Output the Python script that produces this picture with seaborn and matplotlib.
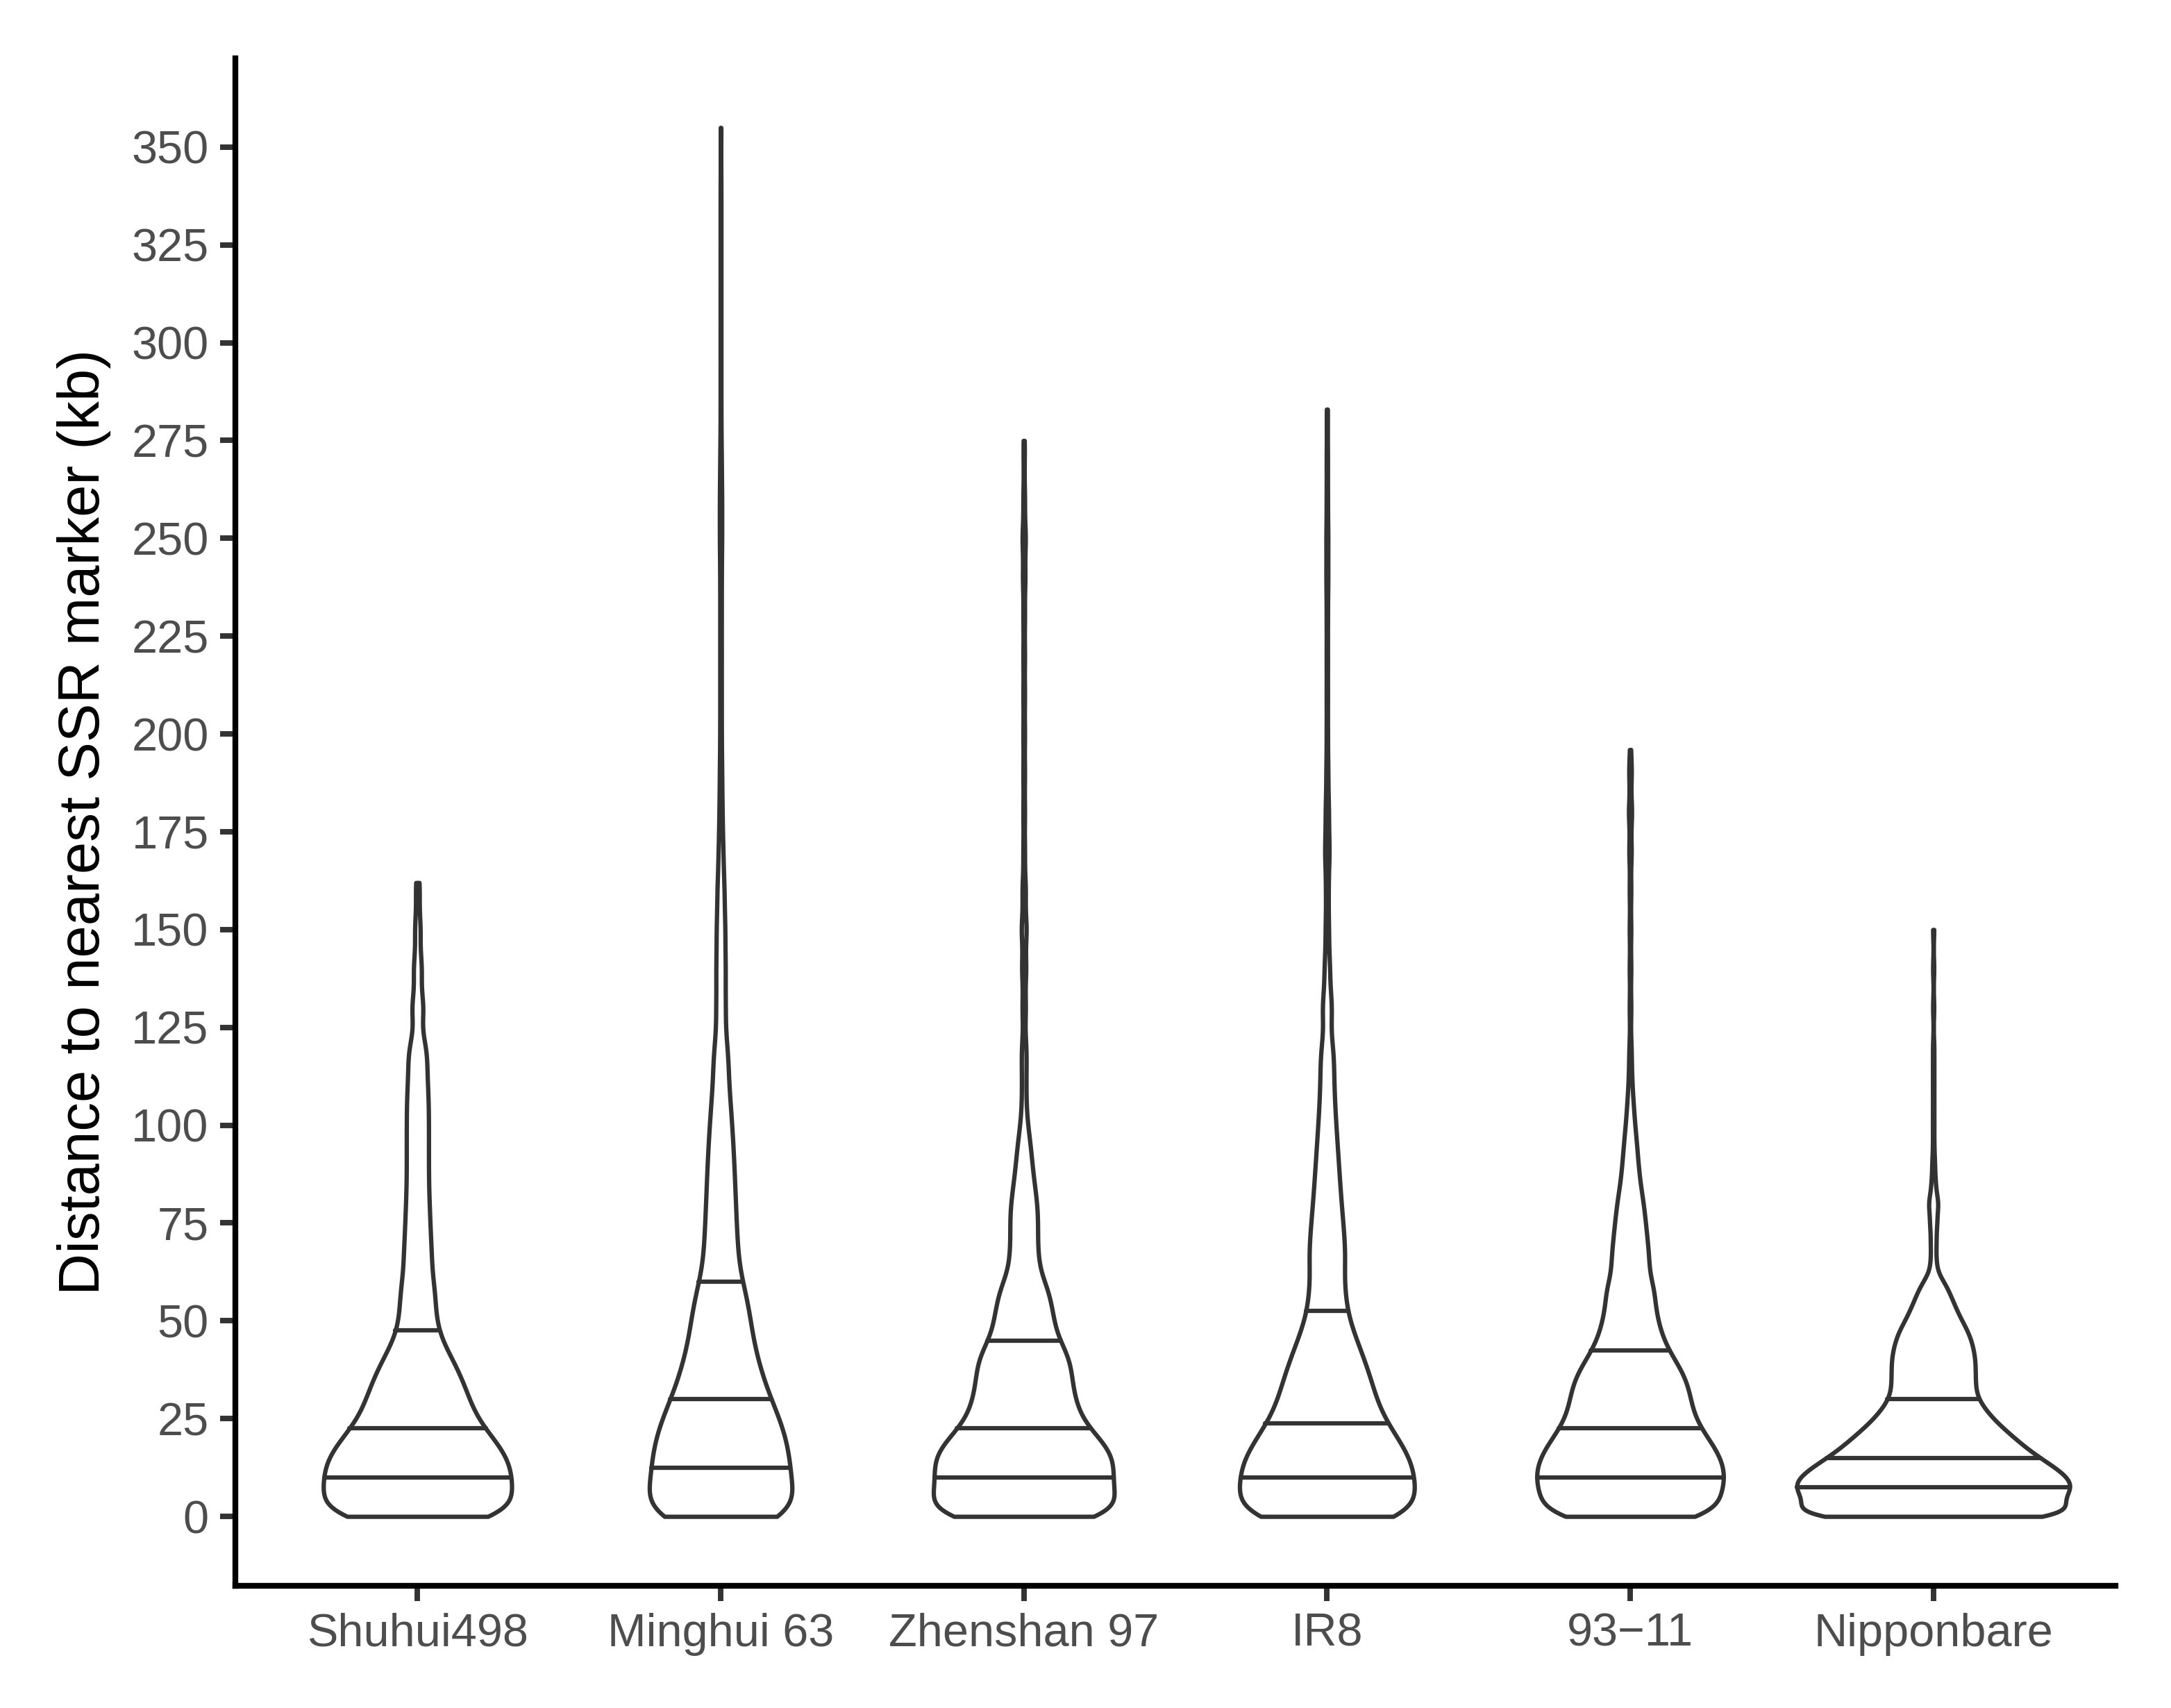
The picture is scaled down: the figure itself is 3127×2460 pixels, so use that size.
import numpy as np
import pandas as pd
import matplotlib
matplotlib.use("Agg")
import matplotlib.pyplot as plt
import seaborn as sns

# cultivars in plotting order
cultivars = ["Shuhui498", "Minghui 63", "Zhenshan 97", "IR8", "93\u221211", "Nipponbare"]

# distance classes (kb) and number of genes in each class
dist_kb = [0, 2.5, 5, 7.5, 10, 12.5, 15, 17.5, 20, 22.5,
           25, 27.5, 30, 32.5, 35, 37.5, 40, 42.5, 45, 47.5,
           50, 52.5, 55, 57.5, 60,
           65, 70, 75, 80, 85, 90, 95, 100, 105, 110, 115,
           120, 130, 140, 150, 160, 170, 180, 190, 200, 210, 220, 230,
           240, 250, 260, 270, 280, 290, 300, 310, 320, 330, 340, 350]

counts_shuhui498 = [105, 58, 61, 65, 65, 63, 63, 57, 52, 44,
                    40, 37, 35, 33, 30, 28, 24, 20, 16, 13,
                    13, 12, 12, 11, 16,
                    20, 18, 17, 16, 15, 15, 15, 15, 15, 14, 12,
                    15, 14, 10, 7, 4]
counts_minghui63 = [100, 42, 42, 44, 44, 46, 44, 43, 41, 41,
                    38, 34, 32, 29, 27, 25, 24, 22, 20, 19,
                    20, 18, 17, 15, 20,
                    23, 21, 20, 19, 18, 17, 16, 14, 13, 10, 9,
                    12, 12, 12, 11, 9, 6, 4, 3, 2, 2, 2, 2,
                    2, 3, 3, 2, 1, 1, 1, 1, 1, 1, 1]
counts_zhenshan97 = [100, 56, 60, 59, 60, 59, 63, 58, 51, 42,
                     38, 36, 34, 33, 32, 31, 33, 29, 22, 20,
                     21, 19, 18, 16, 20,
                     20, 18, 19, 18, 14, 11, 9, 5, 3, 3, 3,
                     4, 4, 5, 6, 4, 2, 2, 2, 2, 2, 2, 2,
                     3, 4, 2, 1]
counts_ir8 = [124, 60, 64, 68, 70, 68, 65, 60, 56, 48,
              44, 40, 38, 36, 34, 32, 29, 26, 23, 20,
              17, 15, 14, 13, 19,
              30, 27, 25, 22, 20, 18, 16, 14, 12, 11, 10,
              12, 14, 8, 5, 4, 7, 5, 3, 2, 2, 2, 2,
              3, 3, 2, 2, 1]
counts_9311 = [92, 60, 66, 70, 72, 70, 68, 64, 58, 52,
               48, 46, 45, 44, 42, 39, 33, 28, 25, 22,
               21, 19, 18, 17, 24,
               29, 26, 23, 20, 15, 12, 10, 7, 5, 3, 2,
               2, 2, 2, 2, 2, 3, 4, 3]
counts_nipponbare = [130, 85, 92, 104, 96, 88, 75, 66, 58, 50,
                     42, 37, 31, 30, 30, 30, 30, 29, 27, 25,
                     20, 17, 14, 11, 9,
                     4, 4, 5, 7, 3, 2, 1, 1, 1, 1, 1,
                     1, 1, 1]

# longest distance per cultivar
max_kb = [162, 355, 275, 283, 196, 150]

all_counts = [counts_shuhui498, counts_minghui63, counts_zhenshan97,
              counts_ir8, counts_9311, counts_nipponbare]

# long table for seaborn
rows = []
for name, cnt, top in zip(cultivars, all_counts, max_kb):
    vals = np.repeat(np.array(dist_kb[:len(cnt)]), cnt)
    vals = np.append(vals, top)
    rows.append(pd.DataFrame({"cultivar": name, "distance": vals}))
df = pd.concat(rows, ignore_index=True)


def bw_nrd0(kde):
    """R's bw.nrd0 rule (what ggplot uses), returned as a factor of the sd."""
    x = kde.dataset[0]
    sd = x.std(ddof=1)
    iqr = np.subtract(*np.percentile(x, [75, 25]))
    lo = min(sd, iqr / 1.34)
    return 0.9 * lo * x.size ** -0.2 / sd


sns.set_theme(style="ticks")
plt.rcParams["font.family"] = ["Liberation Sans", "DejaVu Sans"]

fig, ax = plt.subplots(figsize=(3128 / 300, 2460 / 300), dpi=300)
fig.subplots_adjust(left=0.1085, right=0.974, top=0.966, bottom=0.0715)

sns.violinplot(data=df, x="cultivar", y="distance", order=cultivars,
               color="white", saturation=1, linecolor="#333333", linewidth=1.5,
               cut=0, inner="quart", width=0.9, density_norm="area",
               bw_method=bw_nrd0, bw_adjust=0.7, gridsize=600,
               inner_kws=dict(linewidth=1.5, color="#333333"), ax=ax)

# ggplot style: quantile lines are solid, same weight as the outline
for ln in ax.lines:
    ln.set_linestyle("-")
    ln.set_linewidth(1.5)
for coll in ax.collections:
    coll.set_linewidth(1.5)
    coll.set_edgecolor("#333333")

ax.set_xlim(-0.6, 5.6)
ax.set_ylim(-17.75, 372.75)
ax.set_yticks(np.arange(0, 351, 25))
ax.set_xlabel("")
ax.set_ylabel("Distance to nearest SSR marker (kb)", fontsize=20, color="black", labelpad=7)

sns.despine(ax=ax)
for side in ["left", "bottom"]:
    ax.spines[side].set_linewidth(2.0)
    ax.spines[side].set_color("black")
ax.tick_params(axis="both", length=5.3, width=1.9, color="#333333",
               labelsize=16, labelcolor="#4D4D4D", pad=4)

fig.savefig("out.png", dpi=300, facecolor="white")
